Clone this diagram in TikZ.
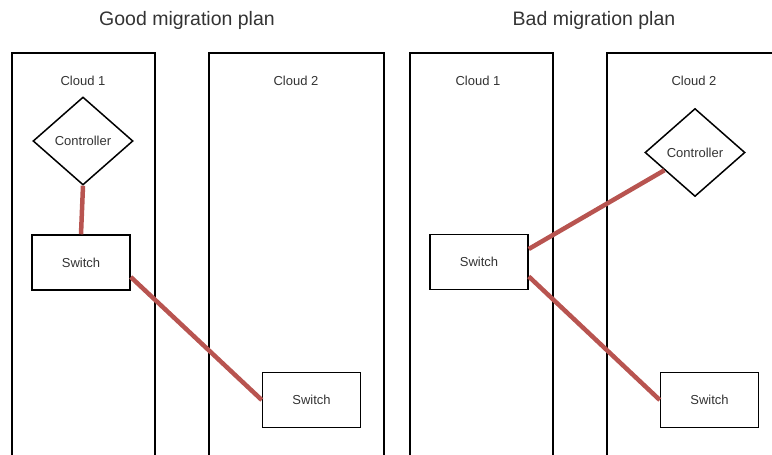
\documentclass[tikz,border=0pt]{standalone}
\usepackage{fontspec}
\setmainfont{Liberation Sans}
\usetikzlibrary{shapes.geometric}
\definecolor{linkred}{RGB}{184,84,80}
\definecolor{txtgray}{RGB}{51,51,51}
\tikzset{
  cloudwall/.style={line width=1.5pt, black},
  switchbox/.style={draw=black, line width=1.5pt, rectangle, minimum width=98pt, minimum height=55pt, inner sep=0pt, text=txtgray, font=\fontsize{13pt}{15pt}\selectfont},
  ctlbox/.style={draw=black, line width=1.5pt, diamond, minimum width=100pt, minimum height=88pt, inner sep=0pt, text=txtgray, font=\fontsize{13pt}{15pt}\selectfont},
  cloudlabel/.style={text=txtgray, font=\fontsize{13pt}{15pt}\selectfont},
  plantitle/.style={text=txtgray, font=\fontsize{19.5pt}{22pt}\selectfont},
  link/.style={line width=4.5pt, linkred}
}
\begin{document}
\begin{tikzpicture}[x=1pt, y=-1pt]
\useasboundingbox (0,0) rectangle (772,455);

% Titles
\node[plantitle] (goodtitle) at (187,20) {Good migration plan};
\node[plantitle] (badtitle) at (594,20) {Bad migration plan};

% Cloud walls
\draw[cloudwall] (12,455) -- (12,53) -- (155,53) -- (155,455);
\draw[cloudwall] (209,455) -- (209,53) -- (384,53) -- (384,455);
\draw[cloudwall] (410,455) -- (410,53) -- (553,53) -- (553,455);
\draw[cloudwall] (607,455) -- (607,53) -- (772,53);

% Cloud labels
\node[cloudlabel] (goodcloudA) at (83,81) {Cloud 1};
\node[cloudlabel] (goodcloudB) at (296,81) {Cloud 2};
\node[cloudlabel] (badcloudA) at (478,81) {Cloud 1};
\node[cloudlabel] (badcloudB) at (694,81) {Cloud 2};

% Good plan
\node[ctlbox] (goodctl) at (83,141) {Controller};
\node[switchbox] (goodswA) at (81,262.5) {Switch};
\node[switchbox] (goodswB) at (311.5,400) {Switch};
\draw[link] (goodctl.south) -- (goodswA.north);
\draw[link] ([yshift=-14.5pt]goodswA.east) -- (goodswB.west);

% Bad plan
\node[ctlbox] (badctl) at (695,152.5) {Controller};
\node[switchbox] (badswA) at (479,262) {Switch};
\node[switchbox] (badswB) at (709.5,400) {Switch};
\draw[link] ([yshift=13pt]badswA.east) -- (badctl);
\draw[link] ([yshift=-14.5pt]badswA.east) -- (badswB.west);

\end{tikzpicture}
\end{document}
